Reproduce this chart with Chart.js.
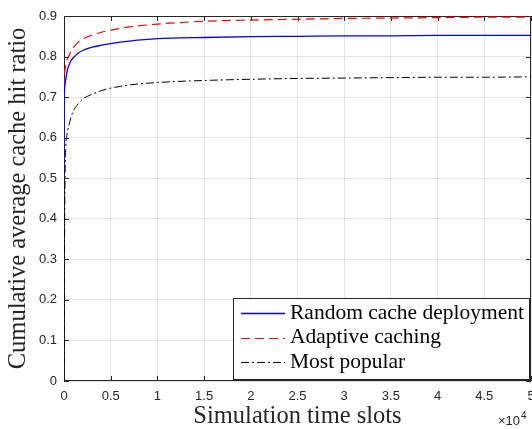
<!DOCTYPE html>
<html>
<head>
<meta charset="utf-8">
<script src="https://cdn.jsdelivr.net/npm/chart.js@4"></script>
<style>
  body { margin: 0; background: #fff; }
  canvas { display: block; }
</style>
</head>
<body>
<canvas id="chart" width="532" height="429"></canvas>
<script>
// time slots (x) and the three cumulative hit ratio curves
var timeSlots = [0, 20, 50, 100, 200, 300, 400, 500, 750, 1000, 1500, 2000, 3000, 4000, 5000,
  7000, 10000, 15000, 20000, 25000, 30000, 35000, 40000, 45000, 50000];
var randomDeploy = [0.51, 0.66, 0.71, 0.73, 0.745, 0.76, 0.77, 0.777, 0.79, 0.797, 0.808, 0.815, 0.823, 0.828, 0.832,
  0.838, 0.844, 0.847, 0.849, 0.850, 0.851, 0.851, 0.852, 0.852, 0.852];
var adaptive = [0.55, 0.70, 0.75, 0.765, 0.78, 0.79, 0.797, 0.80, 0.813, 0.822, 0.835, 0.843, 0.853, 0.86, 0.865,
  0.873, 0.88, 0.887, 0.89, 0.892, 0.894, 0.895, 0.896, 0.897, 0.897];
var mostPopular = [0.0, 0.1, 0.3, 0.48, 0.58, 0.605, 0.618, 0.628, 0.65, 0.666, 0.683, 0.695, 0.707, 0.716, 0.722,
  0.73, 0.736, 0.741, 0.744, 0.746, 0.747, 0.748, 0.749, 0.749, 0.75];
var seriesNames = ['Random cache deployment', 'Adaptive caching', 'Most popular'];
var seriesColors = ['#0000ff', '#ff0000', '#000000'];
var xTicks = [0, 5000, 10000, 15000, 20000, 25000, 30000, 35000, 40000, 45000, 50000];
var yTicks = [0, 0.1, 0.2, 0.3, 0.4, 0.5, 0.6, 0.7, 0.8, 0.9];

function pts(ys) {
  return timeSlots.map(function (t, i) { return {x: t, y: ys[i]}; });
}

var axisColor = '#262626';
var serif = '"Liberation Serif", "DejaVu Serif", serif';
var sans = '"Liberation Sans", Arial, sans-serif';

// box + inward ticks like matlab, drawn under the curves
var boxPlugin = {
  id: 'box',
  beforeDatasetsDraw: function (chart) {
    var c = chart.ctx, a = chart.chartArea;
    var xs = chart.scales.x, ys = chart.scales.y;
    c.save();
    c.strokeStyle = axisColor;
    c.lineWidth = 1;
    c.strokeRect(a.left + 0.5, a.top + 0.5, a.right - a.left - 1, a.bottom - a.top - 1);
    c.beginPath();
    xTicks.forEach(function (v) {
      var px = Math.round(xs.getPixelForValue(v)) + 0.5;
      c.moveTo(px, a.bottom); c.lineTo(px, a.bottom - 5);
      c.moveTo(px, a.top); c.lineTo(px, a.top + 5);
    });
    yTicks.forEach(function (v) {
      var py = Math.round(ys.getPixelForValue(v)) + 0.5;
      c.moveTo(a.left, py); c.lineTo(a.left + 5, py);
      c.moveTo(a.right, py); c.lineTo(a.right - 5, py);
    });
    c.stroke();
    c.restore();
  },
  afterDraw: function (chart) {
    var c = chart.ctx;
    c.save();
    c.fillStyle = axisColor;
    c.font = '13px ' + sans;
    c.textAlign = 'right';
    c.textBaseline = 'alphabetic';
    c.fillText('\u00d710', 520, 425);
    c.font = '10px ' + sans;
    c.textAlign = 'left';
    c.fillText('4', 521, 419);
    c.restore();
  }
};

// legend box in lower right of plot area
var legendPlugin = {
  id: 'boxLegend',
  afterDraw: function (chart) {
    var c = chart.ctx;
    var x0 = 233, y0 = 298, w = 296, h = 81;
    c.save();
    c.fillStyle = '#fff';
    c.fillRect(x0, y0, w, h);
    c.strokeStyle = axisColor;
    c.lineWidth = 1;
    c.strokeRect(x0 + 0.5, y0 + 0.5, w, h);
    chart.data.datasets.forEach(function (ds, i) {
      var y = y0 + 15 + i * 24.5;
      c.beginPath();
      c.strokeStyle = seriesColors[i];
      c.lineWidth = ds.borderWidth;
      c.setLineDash(ds.borderDash || []);
      c.moveTo(241, Math.round(y) + 0.5);
      c.lineTo(285, Math.round(y) + 0.5);
      c.stroke();
      c.setLineDash([]);
      c.fillStyle = '#000';
      c.font = '21.5px ' + serif;
      c.textAlign = 'left';
      c.textBaseline = 'middle';
      c.fillText(ds.label, 290, y);
    });
    c.restore();
  }
};

var config = {
  type: 'scatter',
  data: {
    datasets: [{
      label: seriesNames[0],
      data: pts(randomDeploy),
      borderColor: seriesColors[0],
      borderWidth: 1.3,
      showLine: true,
      pointRadius: 0,
      cubicInterpolationMode: 'monotone'
    }, {
      label: seriesNames[1],
      data: pts(adaptive),
      borderColor: seriesColors[1],
      borderWidth: 1.2,
      borderDash: [9, 5],
      showLine: true,
      pointRadius: 0,
      cubicInterpolationMode: 'monotone'
    }, {
      label: seriesNames[2],
      data: pts(mostPopular),
      borderColor: seriesColors[2],
      borderWidth: 1,
      borderDash: [8, 3, 2, 3],
      showLine: true,
      pointRadius: 0,
      cubicInterpolationMode: 'monotone'
    }]
  },
  options: {
    responsive: false,
    animation: false,
    layout: { padding: { top: 16, right: 1, left: 0, bottom: 0 } },
    plugins: {
      legend: { display: false },
      tooltip: { enabled: false }
    },
    scales: {
      x: {
        type: 'linear',
        min: 0,
        max: 50000,
        afterBuildTicks: function (s) { s.ticks = xTicks.map(function (v) { return {value: v}; }); },
        afterFit: function (s) { s.height = 48; s.paddingLeft = 0; s.paddingRight = 0; },
        ticks: {
          color: axisColor,
          font: { size: 13, family: sans },
          padding: 8,
          maxRotation: 0,
          callback: function (v) { return String(v / 10000); }
        },
        grid: { color: '#e3e3e3', drawTicks: false },
        border: { display: false },
        title: {
          display: true,
          text: 'Simulation time slots',
          color: axisColor,
          font: { size: 24.5, family: serif },
          padding: { top: 0, bottom: -2 }
        }
      },
      y: {
        min: 0,
        max: 0.9,
        afterBuildTicks: function (s) { s.ticks = yTicks.map(function (v) { return {value: v}; }); },
        afterFit: function (s) { s.width = 64; },
        ticks: {
          color: axisColor,
          font: { size: 13, family: sans },
          padding: 7,
          callback: function (v) { return String(Number(v.toFixed(1))); }
        },
        grid: { color: '#e3e3e3', drawTicks: false },
        border: { display: false },
        title: {
          display: true,
          text: 'Cumulative average cache hit ratio',
          color: axisColor,
          font: { size: 24.5, family: serif },
          padding: { top: 4, bottom: 0 }
        }
      }
    }
  },
  plugins: [boxPlugin, legendPlugin]
};

window.onload = function () {
  var ctx = document.getElementById('chart').getContext('2d');
  window.hitChart = new Chart(ctx, config);
};
</script>
</body>
</html>
